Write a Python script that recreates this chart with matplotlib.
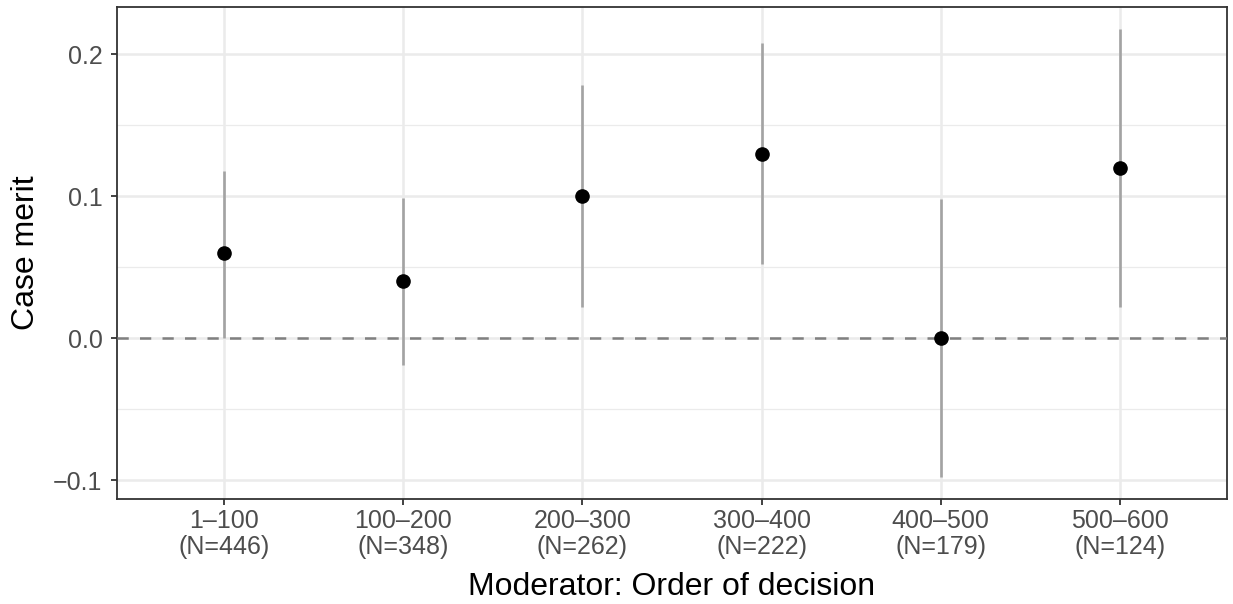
import matplotlib.pyplot as plt
import numpy as np

plt.rcParams["font.family"] = ["Liberation Sans", "DejaVu Sans"]

# data
groups = ["1\u2013100", "100\u2013200", "200\u2013300", "300\u2013400", "400\u2013500", "500\u2013600"]
counts = [446, 348, 262, 222, 179, 124]
estimate = [0.06, 0.04, 0.10, 0.13, 0.00, 0.12]
ci_low = [0.0, -0.019, 0.022, 0.052, -0.098, 0.022]
ci_high = [0.118, 0.099, 0.178, 0.208, 0.098, 0.218]

tick_labels = [f"{g}\n(N={n})" for g, n in zip(groups, counts)]
x = np.arange(len(groups))

fig = plt.figure(figsize=(12.33, 6.04), dpi=100)
ax = fig.add_axes([117 / 1233, 1 - 499 / 604, 1110 / 1233, 492 / 604])

# grid like theme_bw
for v in [0.15, 0.05, -0.05]:
    ax.axhline(v, color="#EBEBEB", lw=0.9, zorder=0)
for v in [0.2, 0.1, 0.0, -0.1]:
    ax.axhline(v, color="#EBEBEB", lw=1.8, zorder=0)
for xi in x:
    ax.axvline(xi, color="#EBEBEB", lw=1.8, zorder=0)

ax.vlines(x, ci_low, ci_high, color="#A3A3A3", lw=1.9, zorder=2)
ax.axhline(0, color="#808080", lw=1.8, ls=(0, (4.5, 4.5)), zorder=3)
ax.plot(x, estimate, "o", color="black", ms=9.5, zorder=4)

ax.set_xlim(-0.6, len(groups) - 0.4)
ax.set_ylim(-0.1132, 0.2332)
ax.set_yticks([-0.1, 0.0, 0.1, 0.2])
ax.set_yticklabels(["\u22120.1", "0.0", "0.1", "0.2"])
ax.set_xticks(x)
ax.set_xticklabels(tick_labels, linespacing=1.1)

ax.tick_params(axis="both", colors="#333333", width=1.3, length=4.5, labelsize=18, labelcolor="#4D4D4D")
ax.tick_params(axis="x", pad=3)
ax.tick_params(axis="y", pad=6)
for s in ax.spines.values():
    s.set_color("#333333")
    s.set_linewidth(1.3)

ax.set_xlabel("Moderator: Order of decision", fontsize=23, labelpad=9)
ax.set_ylabel("Case merit", fontsize=23, labelpad=9)

fig.savefig("out.png", dpi=100)
